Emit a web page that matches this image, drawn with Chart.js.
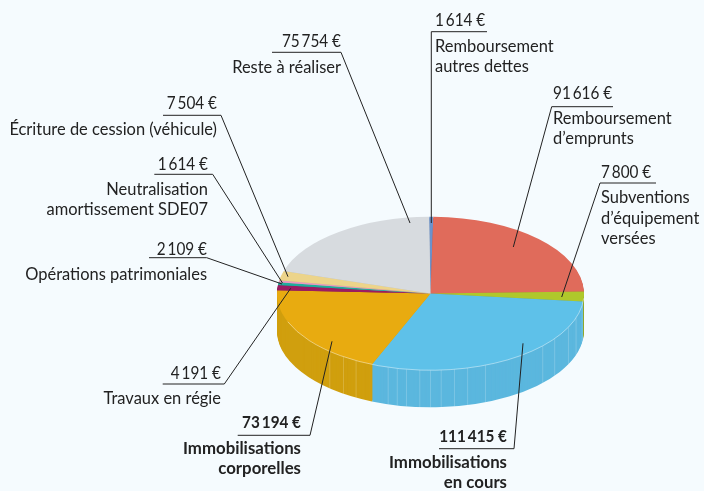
<!DOCTYPE html>
<html lang="fr">
<head>
<meta charset="utf-8">
<style>
html,body{margin:0;padding:0;background:#f5fbfe;width:704px;height:491px;overflow:hidden}
canvas{position:absolute;left:0;top:0}
</style>
<script src="https://cdn.jsdelivr.net/npm/chart.js@4/dist/chart.umd.min.js"></script>
</head>
<body>
<canvas id="c" width="704" height="491"></canvas>
<script>
const categories = [
  ["Remboursement","autres dettes"],
  ["Remboursement","d’emprunts"],
  ["Subventions","d’équipement","versées"],
  ["Immobilisations","en cours"],
  ["Immobilisations","corporelles"],
  ["Travaux en régie"],
  ["Opérations patrimoniales"],
  ["Neutralisation","amortissement SDE07"],
  ["Écriture de cession (véhicule)"],
  ["Reste à réaliser"]
];
const values = [1614, 91616, 7800, 111415, 73194, 4191, 2109, 1614, 7504, 75754];
const topColors = ["#6a92cc","#e06b5b","#afc82b","#5ec1e9","#e8ab10","#9b1c62","#1fae9d","#e79cc0","#ecd48a","#d7dbdf"];
const sideColors = ["#5878a8","#b85a4c","#93a825","#5bb7de","#d09f0e","#80174f","#1a9184","#c483a2","#c9b476","#b8bcc0"];
// rim highlights on the front wall, degrees clockwise from the top
const rimStreaks = [99,108.5,116,126,133,159,166,171,176,180,184,189,192.5,196,209,214.5,221];

// callout layout, same order as the categories
const callouts = [
  {align:"left", x:435,  valueY:26,  textY:[52,72],      bold:false, line:[[487,31.7],[431.3,31.7],[431.3,223]]},
  {align:"left", x:553,  valueY:99,  textY:[124,144],    bold:false, line:[[613,106.7],[551.7,106.7],[513.3,247]]},
  {align:"left", x:601,  valueY:178, textY:[203,224,244],bold:false, line:[[656,183],[600,183],[561.7,297]]},
  {align:"right",x:507,  valueY:442, textY:[468,488],    bold:true,  line:[[439,448.7],[514,448.7],[523,343.3]]},
  {align:"right",x:301,  valueY:428, textY:[454,474],    bold:true,  line:[[237.7,435.3],[310,435.3],[332,341.3]]},
  {align:"right",x:221,  valueY:379, textY:[404],        bold:false, line:[[162.7,384],[224.3,384],[290.7,288.3]]},
  {align:"right",x:207,  valueY:255, textY:[280],        bold:false, line:[[149,257.7],[206.7,257.7],[282,284]]},
  {align:"right",x:208,  valueY:170, textY:[195,215],    bold:false, line:[[154.3,174.3],[212.7,174.3],[282.5,283]]},
  {align:"right",x:217,  valueY:109, textY:[135],        bold:false, line:[[163,115.3],[221,115.3],[288,276.7]]},
  {align:"right",x:341,  valueY:47,  textY:[73],         bold:false, line:[[272,52.3],[341,52.3],[410,223]]}
];

const FONT = 'Lato,"Liberation Sans",sans-serif';
const PIE_CENTER_Y = 293.5, SQUASH = 0.5, DEPTH = 37;
const fmt = v => String(v).replace(/\B(?=(\d{3})+$)/g, "\u2009") + " €";
function narrowText(ctx, t, x, y, sx) {
  ctx.save();
  ctx.translate(x, y);
  ctx.scale(sx, 1);
  ctx.fillText(t, 0, 0);
  ctx.restore();
}

const pie3d = {
  id: "pie3d",
  beforeDatasetsDraw(chart) {
    const ctx = chart.ctx, arcs = chart.getDatasetMeta(0).data;
    const cy = arcs[0].y, cx = arcs[0].x, R = arcs[0].outerRadius;
    ctx.save();
    ctx.translate(0, PIE_CENTER_Y);
    ctx.scale(1, SQUASH);
    ctx.translate(0, -cy);
    // extruded wall: the library's own arcs, repeated downwards
    for (let d = DEPTH; d >= 1; d--) {
      ctx.save();
      ctx.translate(0, d / SQUASH);
      arcs.forEach((arc, i) => {
        const side = Object.create(arc, {options: {value: Object.assign({}, arc.options, {backgroundColor: sideColors[i]})}});
        arc.draw.call(side, ctx);
      });
      ctx.restore();
    }
    // wall streaks
    ctx.lineWidth = 1;
    ctx.strokeStyle = "rgba(255,255,255,0.25)";
    rimStreaks.forEach(a => {
      const t = a * Math.PI / 180, x = cx + R * Math.sin(t), y = cy - R * Math.cos(t);
      ctx.beginPath();
      ctx.moveTo(x, y);
      ctx.lineTo(x, y + DEPTH / SQUASH);
      ctx.stroke();
    });
  },
  afterDatasetsDraw(chart) {
    const ctx = chart.ctx, arc = chart.getDatasetMeta(0).data[0];
    ctx.restore();
    // light rim on the front edge
    ctx.save();
    ctx.translate(0, PIE_CENTER_Y);
    ctx.beginPath();
    ctx.ellipse(arc.x, 0, arc.outerRadius, arc.outerRadius * SQUASH, 0, 0.02 * Math.PI, 0.88 * Math.PI);
    ctx.strokeStyle = "rgba(255,255,255,0.55)";
    ctx.lineWidth = 0.8;
    ctx.stroke();
    ctx.restore();
  },
  afterDraw(chart) {
    const ctx = chart.ctx;
    ctx.save();
    ctx.strokeStyle = "#222";
    ctx.lineWidth = 1;
    callouts.forEach(c => {
      ctx.beginPath();
      c.line.forEach((p, i) => i ? ctx.lineTo(p[0], p[1]) : ctx.moveTo(p[0], p[1]));
      ctx.stroke();
    });
    ctx.fillStyle = "#222";
    ctx.textBaseline = "alphabetic";
    callouts.forEach((c, i) => {
      ctx.textAlign = c.align;
      ctx.font = (c.bold ? "bold " : "") + "17.5px " + FONT;
      narrowText(ctx, fmt(values[i]), c.x, c.valueY, 0.875);
      categories[i].forEach((t, k) => narrowText(ctx, t, c.x, c.textY[k], c.bold ? 0.96 : 0.94));
    });
    ctx.restore();
  }
};

new Chart(document.getElementById("c"), {
  type: "pie",
  data: {
    labels: categories.map(c => c.join(" ")),
    datasets: [{data: values, backgroundColor: topColors, borderWidth: 0}]
  },
  options: {
    responsive: false,
    animation: false,
    rotation: -0.5,
    layout: {padding: {left: 277, right: 120, top: 0, bottom: 0}},
    plugins: {legend: {display: false}, tooltip: {enabled: false}, title: {display: false}}
  },
  plugins: [pie3d]
});
</script>
</body>
</html>
